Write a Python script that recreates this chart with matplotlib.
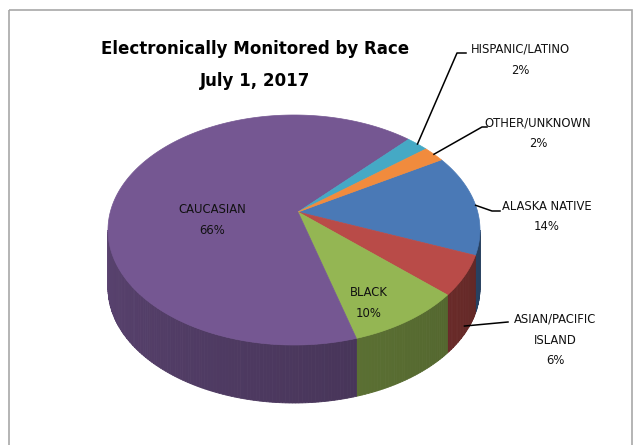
import numpy as np
import matplotlib
matplotlib.use("Agg")
import matplotlib.pyplot as plt
from matplotlib.patches import Polygon, Rectangle

# ---- data (alphabetical order, as in the source sheet) ----
categories = ["ALASKA NATIVE", "ASIAN/PACIFIC\nISLAND", "BLACK", "CAUCASIAN",
              "HISPANIC/LATINO", "OTHER/UNKNOWN"]
values = [14, 6, 10, 66, 2, 2]
title_lines = ["Electronically Monitored by Race", "July 1, 2017"]

# ---- style / layout ----
top_colors = ["#4a79b6", "#b94b48", "#94b653", "#755792", "#45a9c5", "#f18b3d"]
FONT = "DejaVu Sans"
W, H = 639, 445
CX, CY = 294, 230        # ellipse centre (px)
A, B = 186, 115          # ellipse semi-axes (px)
APEX = (298, 212)        # perspective apex of the wedges
DEPTH = 58               # side thickness (px)
START = -37.6            # start param angle (deg, screen y-down, clockwise)

label_pos = {
    "ALASKA NATIVE": (547, 216.5),
    "ASIAN/PACIFIC\nISLAND": (555, 340),
    "BLACK": (369, 303),
    "CAUCASIAN": (212, 220),
    "HISPANIC/LATINO": (520, 59.5),
    "OTHER/UNKNOWN": (538, 133),
}
leaders = {
    "HISPANIC/LATINO": [(457, 53), (466, 53)],
    "OTHER/UNKNOWN": [(482, 127), (487, 127)],
    "ALASKA NATIVE": [(492, 211), (500, 211)],
    "ASIAN/PACIFIC\nISLAND": [(508, 322)],
}
leader_side = {"ASIAN/PACIFIC\nISLAND": 50}


def rim(theta_deg, dy=0.0):
    t = np.radians(theta_deg)
    return CX + A * np.cos(t), CY + B * np.sin(t) + dy


def shade(hexcol, f):
    c = np.array(matplotlib.colors.to_rgb(hexcol))
    return tuple(np.clip(c * f, 0, 1))


fig = plt.figure(figsize=(W / 100, H / 100), dpi=100)
ax = fig.add_axes([0, 0, 1, 1])
ax.set_xlim(0, W)
ax.set_ylim(H, 0)
ax.axis("off")

# chart border
ax.add_patch(Rectangle((9, 10), 623, 460, fill=False, ec="#a8a8a8", lw=1.2))

total = float(sum(values))
spans = []
acc = START
for v in values:
    d = 360.0 * v / total
    spans.append((acc, acc + d))
    acc += d

# ---- sides (front half only: param angle 0..180) ----
for (t1, t2), col in zip(spans, top_colors):
    for k in (-360, 0, 360):
        a1, a2 = max(t1 + k, 0), min(t2 + k, 180)
        if a2 <= a1:
            continue
        n = max(int((a2 - a1) / 1.0), 1)
        edges = np.linspace(a1, a2, n + 1)
        for e1, e2 in zip(edges[:-1], edges[1:]):
            mid = 0.5 * (e1 + e2)
            f = 0.52 + 0.24 * (mid / 180.0)
            ts = np.linspace(e1, e2, 4)
            top = [rim(t) for t in ts]
            bot = [rim(t, DEPTH) for t in ts[::-1]]
            ax.add_patch(Polygon(top + bot, closed=True, fc=shade(col, f),
                                 ec=shade(col, f), lw=0.6))

# ---- top face ----
for (t1, t2), col in zip(spans, top_colors):
    ts = np.linspace(t1, t2, max(int(t2 - t1), 2) * 2)
    pts = [APEX] + [rim(t) for t in ts]
    ax.add_patch(Polygon(pts, closed=True, fc=col, ec=col, lw=0.5))

# ---- labels ----
for cat, v, (t1, t2) in zip(categories, values, spans):
    x, y = label_pos[cat]
    ax.text(x, y, f"{cat}\n{v}%", ha="center", va="center", fontsize=9.3,
            family=FONT, fontstretch="condensed", color="#111111",
            linespacing=1.8)
    if cat in leaders:
        mid = 0.5 * (t1 + t2)
        sx, sy = rim(mid, leader_side.get(cat, 0))
        pts = [(sx, sy)] + leaders[cat]
        ax.plot([p[0] for p in pts], [p[1] for p in pts], color="black", lw=1.1)

ax.text(255, 65, "\n".join(title_lines), ha="center", va="center",
        fontsize=13.3, fontweight="bold", family=FONT, fontstretch="condensed",
        color="black", linespacing=1.95)

fig.savefig("out.png", dpi=100)
